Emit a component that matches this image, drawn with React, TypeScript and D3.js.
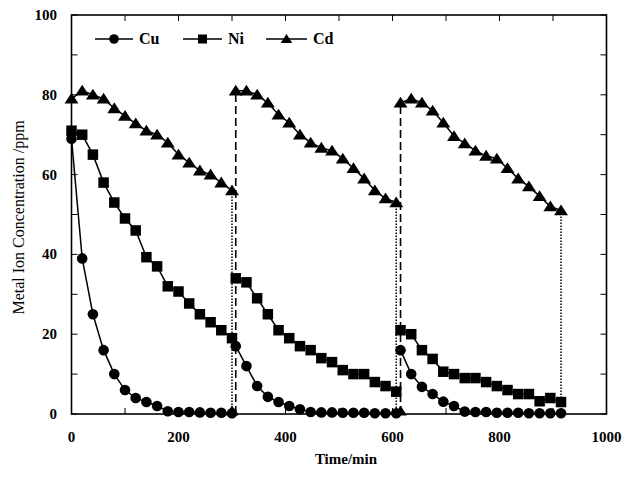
import React from "react";
import * as d3 from "d3";

const t1 = [0, 20, 40, 60, 80, 100, 120, 140, 160, 180, 200, 220, 240, 260, 280, 300];
const t2 = [307, 327, 347, 367, 387, 407, 427, 447, 467, 487, 507, 527, 547, 567, 587, 607];
const t3 = [615, 635, 655, 675, 695, 715, 735, 755, 775, 795, 815, 835, 855, 875, 895, 915];

const cu1 = [69, 39, 25, 16, 10, 6, 4, 3, 2, 0.7, 0.5, 0.5, 0.4, 0.3, 0.3, 0.2];
const cu2 = [17, 12, 7, 4.3, 3, 2, 1.2, 0.5, 0.4, 0.4, 0.3, 0.3, 0.3, 0.2, 0.2, 0.2];
const cu3 = [16, 10, 6.8, 5, 3.1, 2, 0.6, 0.5, 0.5, 0.3, 0.3, 0.3, 0.2, 0.2, 0.2, 0.2];

const ni1 = [71, 70, 65, 58, 53, 49, 46, 39.3, 37, 32, 30.7, 27.7, 25, 23, 21, 19];
const ni2 = [34, 33, 29, 25, 21, 19, 17, 16, 14, 13, 11, 10, 10, 8, 7, 5.6];
const ni3 = [21, 20, 16, 13.8, 10.6, 10, 9, 9, 8, 7, 6, 5, 5, 3.2, 4, 3];

const cd1 = [79, 81, 80, 79, 76.6, 74.7, 72.8, 71, 70, 68, 65, 63, 61, 60, 58, 56];
const cd2 = [81, 81, 80, 78, 75, 73, 70, 68, 66.7, 66, 64, 61.6, 59, 56, 54, 53];
const cd3 = [78, 79, 78, 76, 73, 69.6, 67.8, 66, 64.7, 64, 61.6, 59, 57, 54.6, 52, 51];

const cdZeroTimes = [300, 615];
const xTicks = [0, 200, 400, 600, 800, 1000];
const yTicks = [0, 20, 40, 60, 80, 100];
const seriesNames = ["Cu", "Ni", "Cd"];

const W = 632;
const H = 481;
const L = 71.5;
const R = 606.5;
const T = 15;
const B = 414;

export default function App() {
  const x = d3.scaleLinear().domain([0, 1000]).range([L, R]);
  const y = d3.scaleLinear().domain([0, 100]).range([B, T]);
  const line = d3
    .line<[number, number]>()
    .x((d) => x(d[0]))
    .y((d) => y(d[1]));

  const cycles = [
    { t: t1, cu: cu1, ni: ni1, cd: cd1 },
    { t: t2, cu: cu2, ni: ni2, cd: cd2 },
    { t: t3, cu: cu3, ni: ni3, cd: cd3 },
  ];

  const zip = (t: number[], v: number[]) => t.map((tt, i) => [tt, v[i]] as [number, number]);

  const circle = (cx: number, cy: number, r: number, key: string) => (
    <circle key={key} cx={cx} cy={cy} r={r} fill="#000" />
  );
  const square = (cx: number, cy: number, s: number, key: string) => (
    <rect key={key} x={cx - s / 2} y={cy - s / 2} width={s} height={s} fill="#000" />
  );
  const tri = (cx: number, cy: number, s: number, key: string) => (
    <path
      key={key}
      d={`M${cx},${cy - s * 0.5} L${cx + s * 0.58},${cy + s * 0.4} L${cx - s * 0.58},${cy + s * 0.4} Z`}
      fill="#000"
    />
  );

  const xMinor = d3.range(0, 1001, 100);
  const yMinor = d3.range(0, 101, 10);
  const tickLen = 6;
  const serif = "'Liberation Serif', 'Times New Roman', serif";

  return (
    <svg width={W} height={H} style={{ position: "absolute", left: 0, top: 0, background: "#fff" }}>
      <rect x={0} y={0} width={W} height={H} fill="#fff" />
      {xMinor.map((v) => (
        <g key={"xt" + v}>
          <line x1={x(v)} x2={x(v)} y1={B} y2={B - tickLen} stroke="#000" strokeWidth={1} />
          <line x1={x(v)} x2={x(v)} y1={T} y2={T + tickLen} stroke="#000" strokeWidth={1} />
        </g>
      ))}
      {yMinor.map((v) => (
        <g key={"yt" + v}>
          <line x1={L} x2={L + tickLen} y1={y(v)} y2={y(v)} stroke="#000" strokeWidth={1} />
          <line x1={R} x2={R - tickLen} y1={y(v)} y2={y(v)} stroke="#000" strokeWidth={1} />
        </g>
      ))}
      {xTicks.map((v) => (
        <text
          key={"xl" + v}
          x={x(v)}
          y={442}
          textAnchor="middle"
          fontFamily={serif}
          fontWeight="bold"
          fontSize={15}
        >
          {v}
        </text>
      ))}
      {yTicks.map((v) => (
        <text
          key={"yl" + v}
          x={57}
          y={y(v) + 5}
          textAnchor="end"
          fontFamily={serif}
          fontWeight="bold"
          fontSize={15}
        >
          {v}
        </text>
      ))}
      <text x={346} y={464} textAnchor="middle" fontFamily={serif} fontWeight="bold" fontSize={15}>
        Time/min
      </text>
      <text
        transform={`translate(24,${(T + B) / 2 + 3}) rotate(-90)`}
        textAnchor="middle"
        fontFamily={serif}
        fontSize={16}
      >
        Metal Ion Concentration /ppm
      </text>

      {cycles.map((c, i) => {
        const tEnd = c.t[c.t.length - 1];
        const vEnd = c.cd[c.cd.length - 1];
        return (
          <line
            key={"dot" + i}
            x1={x(tEnd)}
            x2={x(tEnd)}
            y1={y(vEnd)}
            y2={y(0)}
            stroke="#000"
            strokeWidth={1.5}
            strokeDasharray="1.5,1.5"
          />
        );
      })}
      {cycles.slice(1).map((c, i) => (
        <line
          key={"dash" + i}
          x1={x(c.t[0])}
          x2={x(c.t[0])}
          y1={y(0)}
          y2={y(c.cd[0])}
          stroke="#000"
          strokeWidth={1.6}
          strokeDasharray="8,4"
        />
      ))}

      {cycles.map((c, i) => (
        <g key={"ln" + i} fill="none" stroke="#000" strokeWidth={1.5}>
          <path d={line(zip(c.t, c.cu)) || ""} />
          <path d={line(zip(c.t, c.ni)) || ""} />
          <path d={line(zip(c.t, c.cd)) || ""} />
        </g>
      ))}

      {cycles.map((c, i) => (
        <g key={"mk" + i}>
          {c.t.map((tt, j) => tri(x(tt), y(c.cd[j]), 12, `cd${i}-${j}`))}
          {c.t.map((tt, j) => square(x(tt), y(c.ni[j]), 10.5, `ni${i}-${j}`))}
          {c.t.map((tt, j) => circle(x(tt), y(c.cu[j]), 5.3, `cu${i}-${j}`))}
        </g>
      ))}
      {cdZeroTimes.map((tt, j) => tri(x(tt), y(0) - 3, 11, "cdz" + j))}

      <rect x={L} y={T} width={R - L} height={B - T} fill="none" stroke="#000" strokeWidth={1.6} />

      {seriesNames.map((n, i) => {
        const x0 = [95, 183, 266][i];
        const x1 = [133, 222, 307][i];
        const cx = (x0 + x1) / 2;
        const ly = 39;
        return (
          <g key={"lg" + n}>
            <line x1={x0} x2={x1} y1={ly} y2={ly} stroke="#000" strokeWidth={1.5} />
            {i === 0 && circle(cx, ly, 4.8, "lc")}
            {i === 1 && square(cx, ly, 9, "ls")}
            {i === 2 && tri(cx, ly, 10, "lt")}
            <text x={x1 + 6} y={ly + 5} fontFamily={serif} fontWeight="bold" fontSize={16}>
              {n}
            </text>
          </g>
        );
      })}
    </svg>
  );
}
